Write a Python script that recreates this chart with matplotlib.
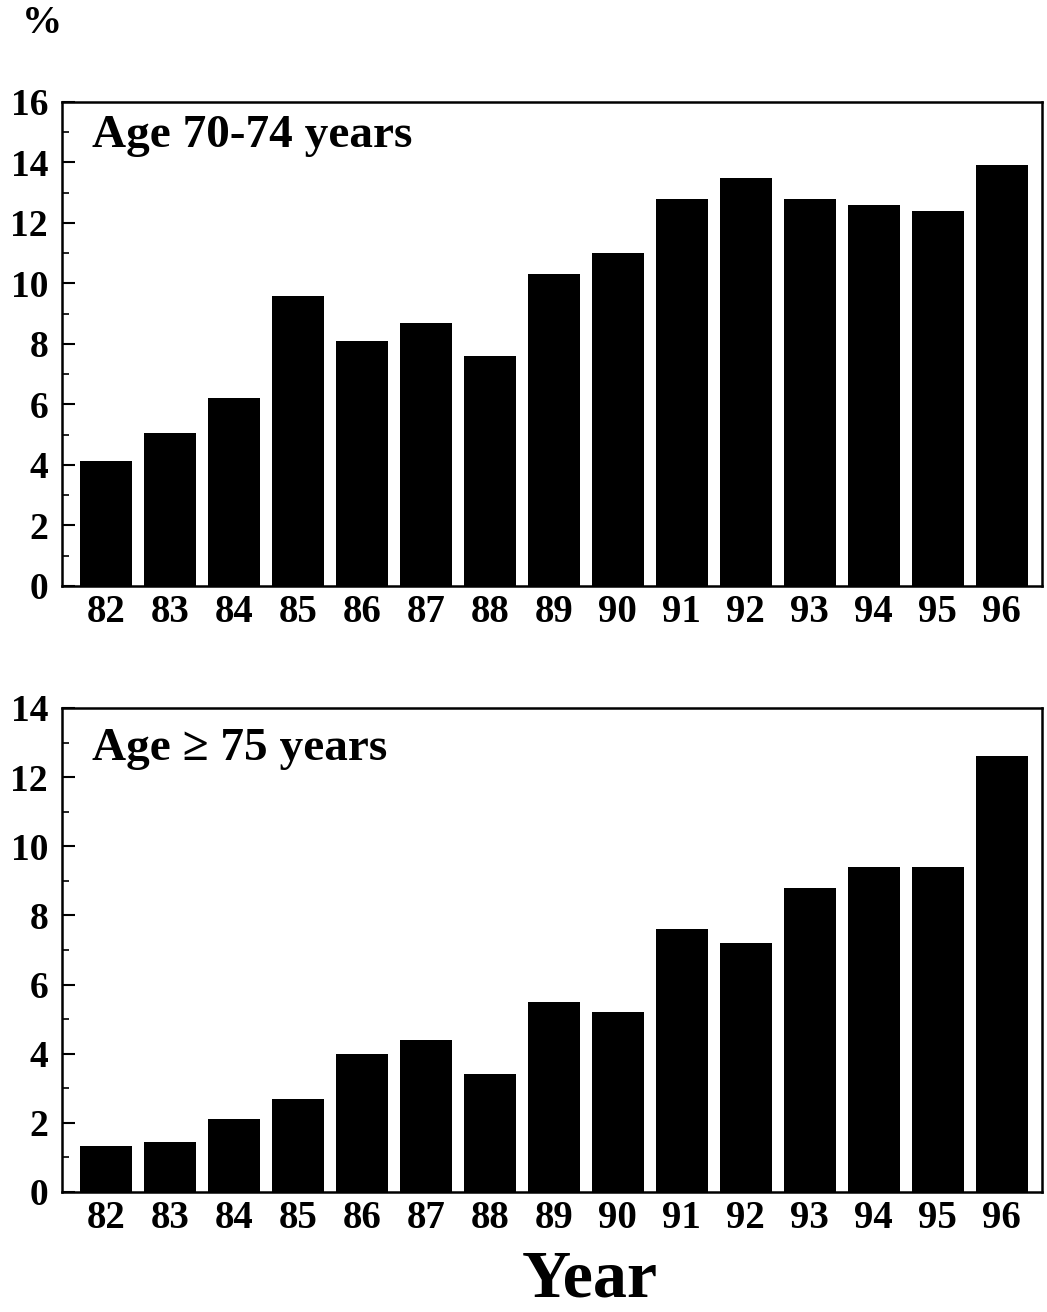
import matplotlib.pyplot as plt

# datos
years = ['82', '83', '84', '85', '86', '87', '88', '89', '90', '91', '92', '93', '94', '95', '96']
age70_74 = [4.14, 5.04, 6.2, 9.6, 8.1, 8.7, 7.6, 10.3, 11.0, 12.8, 13.5, 12.8, 12.6, 12.4, 13.9]
age75 = [1.33, 1.45, 2.1, 2.7, 4.0, 4.4, 3.4, 5.5, 5.2, 7.6, 7.2, 8.8, 9.4, 9.4, 12.6]

plt.rcParams['font.family'] = ['Liberation Serif', 'DejaVu Serif']
plt.rcParams['font.weight'] = 'bold'

fig = plt.figure(figsize=(10.47, 13.12), dpi=100)

def panel(rect, vals, ymax, label, ly):
  ax = fig.add_axes(rect)
  x = list(range(len(years)))
  ax.bar(x, vals, width=0.81, color='black')
  ax.set_xlim(-0.69, 14.63)
  ax.set_ylim(0, ymax)
  ax.set_xticks(x)
  ax.set_xticklabels(years)
  ax.set_yticks(range(0, ymax + 1, 2))
  ax.set_yticks(range(1, ymax, 2), minor=True)
  ax.tick_params(axis='x', length=0, pad=6, labelsize=28)
  ax.tick_params(axis='y', which='major', direction='in', length=9, width=1.5, pad=10, labelsize=27)
  ax.tick_params(axis='y', which='minor', direction='in', length=5, width=1.2)
  for s in ax.spines.values():
    s.set_linewidth(1.8)
  for t in ax.get_xticklabels() + ax.get_yticklabels():
    t.set_fontweight('bold')
  ax.text(0.031, ly, label, transform=ax.transAxes, fontsize=34, fontweight='bold', va='baseline', ha='left')
  return ax

ax1 = panel([0.0592, 0.5534, 0.936, 0.3689], age70_74, 16, 'Age 70-74 years', 0.907)
ax2 = panel([0.0592, 0.0915, 0.936, 0.3689], age75, 14, 'Age \u2265 75 years', 0.893)

fig.text(0.040, 0.982, '%', fontsize=29, fontweight='bold', ha='center', va='center')
fig.text(0.563, 0.0015, 'Year', fontsize=49, fontweight='bold', ha='center', va='bottom')

plt.savefig('out.png', dpi=100)
